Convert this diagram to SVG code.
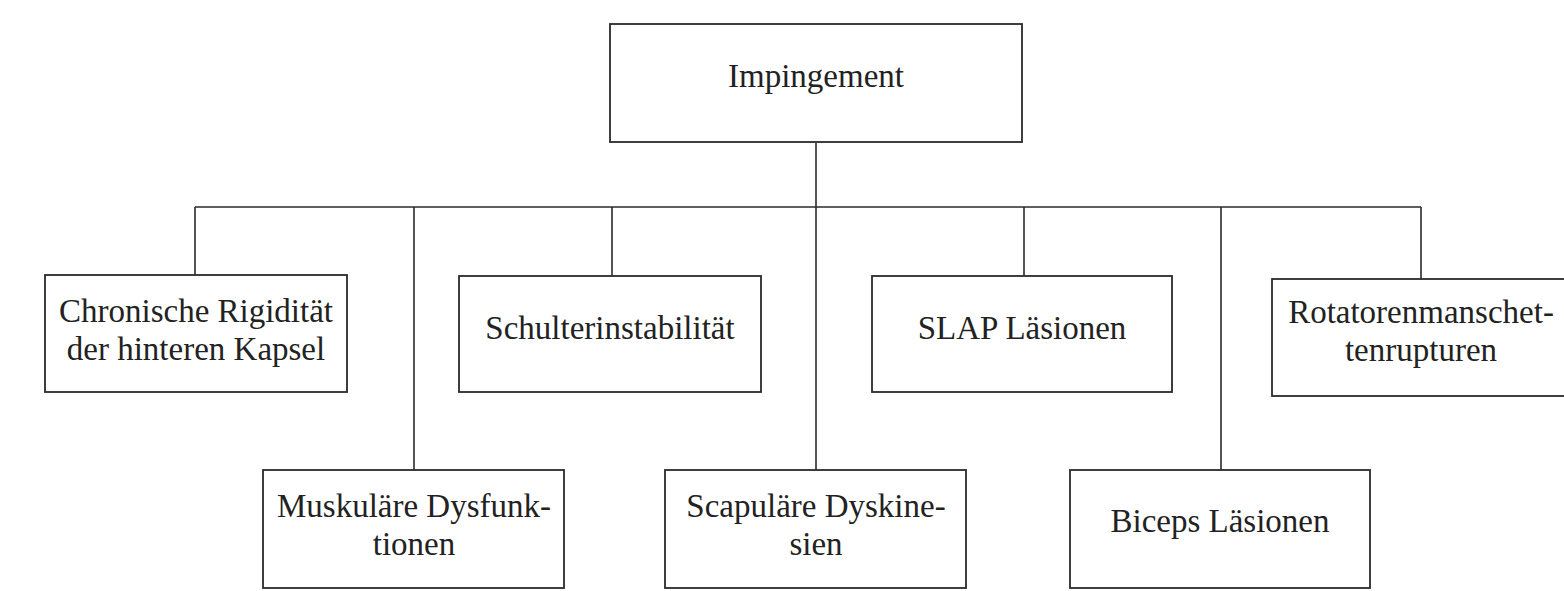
<svg xmlns="http://www.w3.org/2000/svg" width="1564" height="591" viewBox="0 0 1564 591">
<style>
.box{fill:#fff;stroke:#2a2a2a;stroke-width:1.8}
.ln{fill:none;stroke:#2a2a2a;stroke-width:1.6}
.t{font-family:"Liberation Serif","Times New Roman",serif;font-size:33px;fill:#222;text-anchor:middle}
</style>
<rect width="1564" height="591" fill="#fff"/>
<g id="connectors">
<line class="ln" x1="816" y1="143" x2="816" y2="470"/>
<line class="ln" x1="195" y1="207" x2="1421" y2="207"/>
<line class="ln" x1="195" y1="207" x2="195" y2="275"/>
<line class="ln" x1="414" y1="207" x2="414" y2="470"/>
<line class="ln" x1="612" y1="207" x2="612" y2="276"/>
<line class="ln" x1="1024" y1="207" x2="1024" y2="276"/>
<line class="ln" x1="1221" y1="207" x2="1221" y2="470"/>
<line class="ln" x1="1421" y1="207" x2="1421" y2="279"/>
</g>
<g id="impingement">
<rect class="box" x="610" y="24" width="412" height="118"/>
<text class="t" x="816" y="87">Impingement</text>
</g>
<g id="chronische">
<rect class="box" x="45" y="275" width="302" height="117"/>
<text class="t" x="196" y="322">Chronische Rigidität</text>
<text class="t" x="196" y="360">der hinteren Kapsel</text>
</g>
<g id="schulter">
<rect class="box" x="459" y="276" width="302" height="116"/>
<text class="t" x="610" y="339">Schulterinstabilität</text>
</g>
<g id="slap">
<rect class="box" x="872" y="276" width="300" height="116"/>
<text class="t" x="1022" y="339">SLAP Läsionen</text>
</g>
<g id="rotatoren">
<rect class="box" x="1272" y="279" width="300" height="117"/>
<text class="t" x="1421" y="323">Rotatorenmanschet-</text>
<text class="t" x="1421" y="361">tenrupturen</text>
</g>
<g id="muskulaere">
<rect class="box" x="263" y="470" width="301" height="118"/>
<text class="t" x="414" y="517">Muskuläre Dysfunk-</text>
<text class="t" x="414" y="555">tionen</text>
</g>
<g id="scapulaere">
<rect class="box" x="665" y="470" width="301" height="118"/>
<text class="t" x="816" y="517">Scapuläre Dyskine-</text>
<text class="t" x="816" y="555">sien</text>
</g>
<g id="biceps">
<rect class="box" x="1070" y="470" width="300" height="118"/>
<text class="t" x="1220" y="532">Biceps Läsionen</text>
</g>
</svg>
